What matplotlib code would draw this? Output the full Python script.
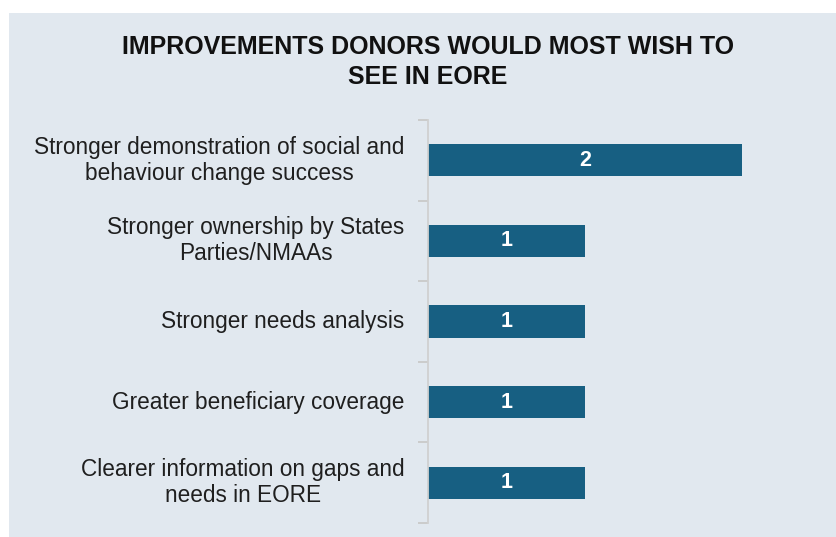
import matplotlib
matplotlib.use("Agg")
import os
import matplotlib.pyplot as plt
from matplotlib import font_manager
from matplotlib.patches import Rectangle

categories = [
    "Stronger demonstration of social and\nbehaviour change success",
    "Stronger ownership by States\nParties/NMAAs",
    "Stronger needs analysis",
    "Greater beneficiary coverage",
    "Clearer information on gaps and\nneeds in EORE",
]
values = [2, 1, 1, 1, 1]
title = "IMPROVEMENTS DONORS WOULD MOST WISH TO\nSEE IN EORE"

W, H = 836, 537
BG = "#e1e8ef"
BAR = "#175f82"


def font_file(name, fallback_weight):
    for path in font_manager.findSystemFonts():
        if os.path.basename(path) == name:
            return font_manager.FontProperties(fname=path)
    return font_manager.FontProperties(family="Liberation Sans", weight=fallback_weight)


regular = font_file("LiberationSans-Regular.ttf", "normal")
bold = font_file("LiberationSans-Bold.ttf", "bold")

fig = plt.figure(figsize=(W / 100, H / 100), dpi=100, facecolor="white")
fig.patches.append(Rectangle((9 / W, 0), 1 - 9 / W, (H - 13) / H,
                             transform=fig.transFigure, facecolor=BG,
                             edgecolor="none", zorder=-10))

ax = fig.add_axes([428 / W, (H - 523) / H, (W - 428) / W, (523 - 120) / H])
ax.set_facecolor("none")
ax.set_zorder(1)

n = len(categories)
ypos = list(range(n))
bars = ax.barh(ypos, values, height=0.4, color=BAR, zorder=2)
ax.set_xlim(0, 2.6)
ax.set_ylim(n - 0.5, -0.5)

value_fp = bold.copy()
value_fp.set_size(15.5)
for rect, v in zip(bars, values):
    ax.text(rect.get_x() + rect.get_width() / 2, rect.get_y() + rect.get_height() / 2,
            str(v), ha="center", va="center", color="white", fontproperties=value_fp)

# category labels, centered within their block, right-aligned to the axis
ax.set_yticks([])
label_fp = regular.copy()
label_fp.set_size(16.3)
for y, lab in zip(ypos, categories):
    ax.text(-0.15, y, lab, ha="right", va="center", multialignment="center",
            fontproperties=label_fp, color="#1f1f1f", linespacing=1.17)

# divider ticks between categories
ax.set_yticks([i - 0.5 for i in range(n + 1)], minor=True)
ax.tick_params(axis="y", which="minor", length=7, width=1.3, color="#c9c9c9", left=True)
ax.tick_params(axis="y", which="major", length=0)
ax.set_xticks([])

for s in ["top", "right", "bottom"]:
    ax.spines[s].set_visible(False)
ax.spines["left"].set_color("#d0d0d0")
ax.spines["left"].set_linewidth(1.3)

title_fp = bold.copy()
title_fp.set_size(18)
fig.text(428 / W, 1 - 62 / H, title, ha="center", va="center",
         fontproperties=title_fp, color="#111111", linespacing=1.33)

fig.savefig("out.png", dpi=100, facecolor="white")
